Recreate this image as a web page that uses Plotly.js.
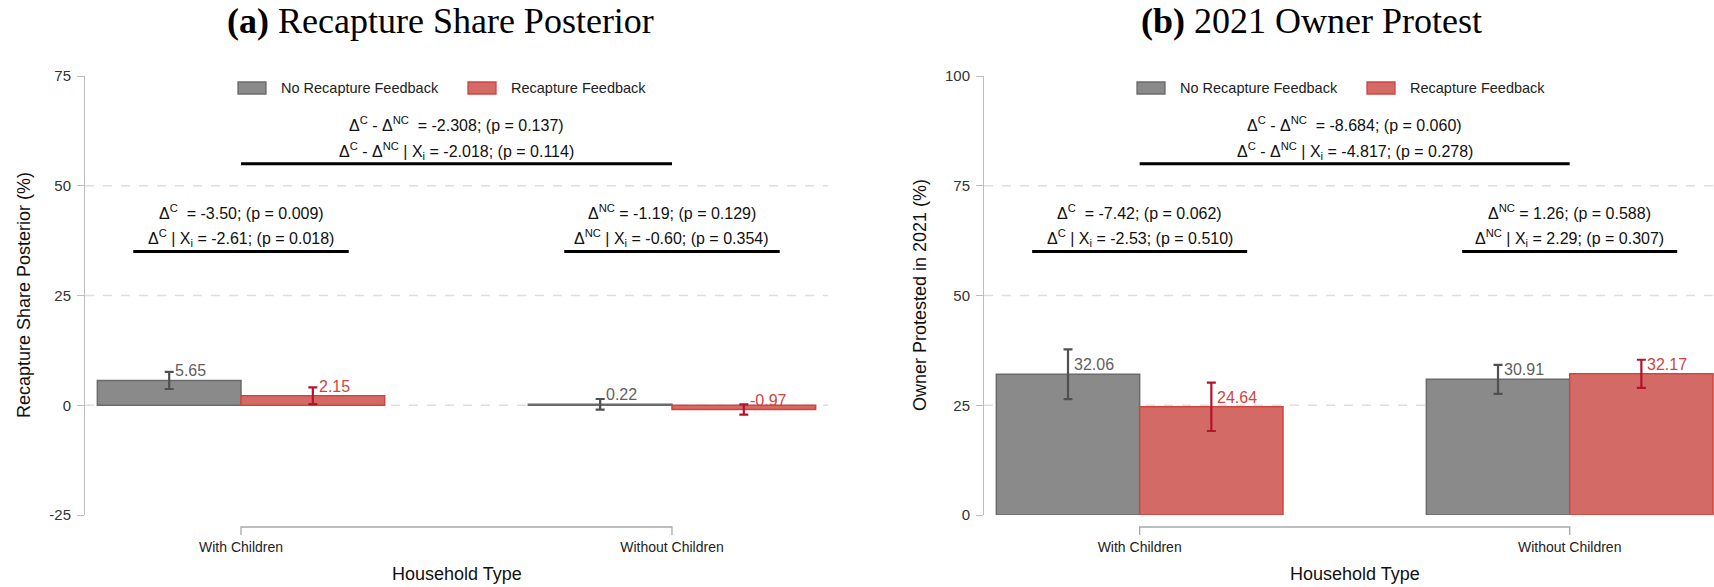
<!DOCTYPE html>
<html>
<head>
<meta charset="utf-8">
<script src="https://cdn.plot.ly/plotly-3.0.1.min.js"></script>
<style>
  html, body { margin: 0; padding: 0; background: #ffffff; }
  #chart { width: 1714px; height: 587px; }
</style>
</head>
<body>
<div id="chart"></div>
<script>
// ---- data ----
const categories = ["With Children", "Without Children"];
const seriesNames = ["No Recapture Feedback", "Recapture Feedback"];

// Panel (a): recapture share posterior (%)
const noFeedbackA = [5.65, 0.22];
const feedbackA = [2.15, -0.97];
const noFeedbackErrA = [1.95, 1.2];
const feedbackErrA = [1.9, 1.15];

// Panel (b): owner protested in 2021 (%)
const noFeedbackB = [32.06, 30.91];
const feedbackB = [24.64, 32.17];
const noFeedbackErrB = [5.65, 3.3];
const feedbackErrB = [5.5, 3.2];

const ticksA = [-25, 0, 25, 50, 75];
const ticksB = [0, 25, 50, 75, 100];

// test statistics printed above the bars
const diffStatsA = ["Δ<sup>C</sup> - Δ<sup>NC</sup>  = -2.308; (p = 0.137)",
                    "Δ<sup>C</sup> - Δ<sup>NC</sup> | X<sub>i</sub> = -2.018; (p = 0.114)"];
const childStatsA = ["Δ<sup>C</sup>  = -3.50; (p = 0.009)",
                     "Δ<sup>C</sup> | X<sub>i</sub> = -2.61; (p = 0.018)"];
const noChildStatsA = ["Δ<sup>NC</sup> = -1.19; (p = 0.129)",
                       "Δ<sup>NC</sup> | X<sub>i</sub> = -0.60; (p = 0.354)"];
const diffStatsB = ["Δ<sup>C</sup> - Δ<sup>NC</sup>  = -8.684; (p = 0.060)",
                    "Δ<sup>C</sup> - Δ<sup>NC</sup> | X<sub>i</sub> = -4.817; (p = 0.278)"];
const childStatsB = ["Δ<sup>C</sup>  = -7.42; (p = 0.062)",
                     "Δ<sup>C</sup> | X<sub>i</sub> = -2.53; (p = 0.510)"];
const noChildStatsB = ["Δ<sup>NC</sup> = 1.26; (p = 0.588)",
                       "Δ<sup>NC</sup> | X<sub>i</sub> = 2.29; (p = 0.307)"];

// ---- styling ----
const W = 1714, H = 587;
const SANS = "Liberation Sans, Arial, sans-serif";
const SERIF = "Liberation Serif, Times New Roman, serif";
const GRAY_FILL = "#8a8a8a", GRAY_LINE = "#6b6b6b", GRAY_ERR = "#505050", GRAY_TXT = "#5f5f5f";
const RED_FILL = "#d46a66", RED_LINE = "#d0463f", RED_ERR = "#b3142c", RED_TXT = "#d0443f";
const AXIS_GRAY = "#bdbdbd";

const px = v => v / W;           // horizontal pixel -> paper
const py = v => 1 - v / H;       // vertical pixel -> paper

const panels = [
  { x: "x", y: "y", xa: "xaxis", ya: "yaxis", dom: [px(85), px(828)], range: [-0.362, 1.362],
    ticks: ticksA, top: 75, yTitle: "Recapture Share Posterior (%)", yTitleX: 24,
    title: "<b>(a)</b> Recapture Share Posterior", titleX: 440,
    no: noFeedbackA, fb: feedbackA, noErr: noFeedbackErrA, fbErr: feedbackErrA,
    diff: diffStatsA, child: childStatsA, noChild: noChildStatsA },
  { x: "x2", y: "y2", xa: "xaxis2", ya: "yaxis2", dom: [px(984), 1], range: [-0.362, 1.3356],
    ticks: ticksB, top: 100, yTitle: "Owner Protested in 2021 (%)", yTitleX: 920,
    title: "<b>(b)</b> 2021 Owner Protest", titleX: 1311,
    no: noFeedbackB, fb: feedbackB, noErr: noFeedbackErrB, fbErr: feedbackErrB,
    diff: diffStatsB, child: childStatsB, noChild: noChildStatsB }
];

const catPos = categories.map((c, i) => i);
const yDomain = [py(515), py(76)];

const traces = [];
const shapes = [];
const annotations = [];
const layout = {
  width: W, height: H,
  margin: { l: 0, r: 0, t: 0, b: 0 },
  paper_bgcolor: "#ffffff", plot_bgcolor: "#ffffff",
  showlegend: false,
  barmode: "group", bargap: 1 / 3, bargroupgap: 0,
  font: { family: SANS, color: "#222" }
};

panels.forEach(p => {
  const barStyle = (fill, line) => ({ color: fill, line: { color: line, width: 1.5 } });
  traces.push({
    type: "bar", name: seriesNames[0], x: catPos, y: p.no, xaxis: p.x, yaxis: p.y,
    marker: barStyle(GRAY_FILL, GRAY_LINE), hoverinfo: "skip",
    error_y: { type: "data", array: p.noErr, visible: true, color: GRAY_ERR, thickness: 2.2, width: 4.5 }
  });
  traces.push({
    type: "bar", name: seriesNames[1], x: catPos, y: p.fb, xaxis: p.x, yaxis: p.y,
    marker: barStyle(RED_FILL, RED_LINE), hoverinfo: "skip",
    error_y: { type: "data", array: p.fbErr, visible: true, color: RED_ERR, thickness: 2.2, width: 4.5 }
  });

  const lo = p.ticks[0], hi = p.ticks[p.ticks.length - 1];
  layout[p.xa] = {
    domain: p.dom, range: p.range, anchor: p.y,
    showline: false, showgrid: false, zeroline: false,
    tickmode: "array", tickvals: catPos, ticktext: categories,
    ticks: "outside", ticklen: 19, tickcolor: "rgba(0,0,0,0)",
    tickfont: { family: SANS, size: 14, color: "#222" }
  };
  layout[p.ya] = {
    domain: yDomain, range: [lo, hi], anchor: p.x,
    showline: true, linecolor: AXIS_GRAY, linewidth: 1,
    showgrid: false, zeroline: false,
    tickmode: "array", tickvals: p.ticks, ticktext: p.ticks.map(String),
    ticks: "outside", ticklen: 7, tickcolor: AXIS_GRAY, tickwidth: 1,
    ticklabelstandoff: 3,
    tickfont: { family: SANS, size: 15, color: "#333" }
  };

  // dashed grid at the interior ticks
  p.ticks.slice(1, -1).forEach(t => shapes.push({
    type: "line", xref: p.x + " domain", yref: p.y, x0: 0, x1: 1, y0: t, y1: t,
    line: { color: "#dedede", width: 1.5, dash: "dash" }, layer: "below"
  }));

  // category axis drawn as a bracket between the two groups
  const yTop = py(527), yBot = py(535);
  shapes.push({
    type: "path", xref: p.x, yref: "paper",
    path: `M ${catPos[0]},${yBot} L ${catPos[0]},${yTop} L ${catPos[1]},${yTop} L ${catPos[1]},${yBot}`,
    line: { color: "#a8a8a8", width: 1.3 }
  });

  // value labels next to the error bars
  const half = 1 / 6;
  catPos.forEach(i => {
    annotations.push({ xref: p.x, yref: p.y, x: i - half, y: p.no[i], text: p.no[i].toFixed(2),
      showarrow: false, xanchor: "left", yanchor: "bottom", xshift: 4, yshift: -1,
      font: { family: SANS, size: 16, color: GRAY_TXT } });
    annotations.push({ xref: p.x, yref: p.y, x: i + half, y: p.fb[i], text: p.fb[i].toFixed(2),
      showarrow: false, xanchor: "left", yanchor: "bottom", xshift: 4, yshift: -1,
      font: { family: SANS, size: 16, color: RED_TXT } });
  });

  // test statistics and their underlines
  const statFont = { family: SANS, size: 16, color: "#111" };
  const addStats = (lines, xc) => {
    annotations.push({ xref: p.x, yref: p.y, x: xc, y: p.top - 11, text: lines[0], showarrow: false, font: statFont });
    annotations.push({ xref: p.x, yref: p.y, x: xc, y: p.top - 17, text: lines[1], showarrow: false, font: statFont });
  };
  addStats(p.diff, (catPos[0] + catPos[1]) / 2);
  shapes.push({ type: "line", xref: p.x, yref: p.y, x0: catPos[0], x1: catPos[1],
    y0: p.top - 20, y1: p.top - 20, line: { color: "#000", width: 3 } });
  [[p.child, catPos[0]], [p.noChild, catPos[1]]].forEach(([lines, c]) => {
    annotations.push({ xref: p.x, yref: p.y, x: c, y: p.top - 31, text: lines[0], showarrow: false, font: statFont });
    annotations.push({ xref: p.x, yref: p.y, x: c, y: p.top - 37, text: lines[1], showarrow: false, font: statFont });
    shapes.push({ type: "line", xref: p.x, yref: p.y, x0: c - 0.25, x1: c + 0.25,
      y0: p.top - 40, y1: p.top - 40, line: { color: "#000", width: 3 } });
  });

  // legend keys
  const x0 = p.dom[0] * W;
  const keys = [[GRAY_FILL, GRAY_LINE, 153, 194], [RED_FILL, RED_LINE, 383, 424]];
  keys.forEach(([fill, line, sx, tx], k) => {
    shapes.push({ type: "rect", xref: "paper", yref: "paper",
      x0: px(x0 + sx), x1: px(x0 + sx + 28), y0: py(94), y1: py(82),
      fillcolor: fill, line: { color: line, width: 1.3 } });
    annotations.push({ xref: "paper", yref: "paper", x: px(x0 + tx), y: py(88), text: seriesNames[k],
      showarrow: false, xanchor: "left", yanchor: "middle", font: { family: SANS, size: 14.5, color: "#222" } });
  });

  // axis titles and panel title
  annotations.push({ xref: "paper", yref: "paper", x: px(p.yTitleX), y: py(295), text: p.yTitle,
    textangle: -90, showarrow: false, xanchor: "center", yanchor: "middle",
    font: { family: SANS, size: 18, color: "#111" } });
  annotations.push({ xref: p.x, yref: "paper", x: (catPos[0] + catPos[1]) / 2, y: py(574), text: "Household Type",
    showarrow: false, xanchor: "center", yanchor: "middle",
    font: { family: SANS, size: 18, color: "#111" } });
  annotations.push({ xref: "paper", yref: "paper", x: px(p.titleX), y: py(21), text: p.title,
    showarrow: false, xanchor: "center", yanchor: "middle",
    font: { family: SERIF, size: 36, color: "#000" } });
});

layout.shapes = shapes;
layout.annotations = annotations;

Plotly.newPlot("chart", traces, layout, { staticPlot: true, displayModeBar: false });
</script>
</body>
</html>
